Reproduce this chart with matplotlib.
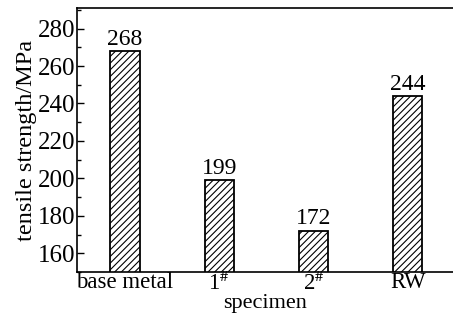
import numpy as np
import matplotlib
matplotlib.use("Agg")
import matplotlib.pyplot as plt
from matplotlib.ticker import MultipleLocator

plt.rcParams['font.family'] = ['Liberation Serif', 'DejaVu Serif']
plt.rcParams['mathtext.fontset'] = 'stix'
plt.rcParams['hatch.linewidth'] = 0.8

specimens = ['base metal', r'1$^{\#}$', r'2$^{\#}$', 'RW']
strength = [268, 199, 172, 244]

fig = plt.figure(figsize=(4.53, 3.22), dpi=100)
ax = fig.add_axes([77 / 453, 1 - 272 / 322, 1 - 77 / 453, 264 / 322])

x = np.arange(len(specimens))
bars = ax.bar(x, strength, width=0.31, color='white', edgecolor='black',
              linewidth=1.3, hatch='/////')
for xi, v in zip(x, strength):
    ax.text(xi, v + 0.8, str(v), ha='center', va='bottom', fontsize=17)

ax.set_xlim(-0.51, 3.48)
ax.set_ylim(150, 291)
ax.set_xticks(x)
ax.set_xticklabels(specimens, fontsize=16.5)
ax.yaxis.set_major_locator(MultipleLocator(20))
ax.yaxis.set_minor_locator(MultipleLocator(10))
ax.set_yticks(np.arange(160, 281, 20))
ax.tick_params(axis='y', which='major', direction='in', length=5, width=1, labelsize=18, pad=1)
ax.tick_params(axis='y', which='minor', direction='in', length=3, width=1)
ax.tick_params(axis='x', length=0, pad=0)
ax.spines['right'].set_visible(False)
for s in ['left', 'bottom', 'top']:
    ax.spines[s].set_linewidth(1.2)

ax.set_xlabel('specimen', fontsize=16, labelpad=-1)
ax.set_ylabel('tensile strength/MPa', fontsize=17.5, labelpad=1)

fig.savefig('out.png', dpi=100)
